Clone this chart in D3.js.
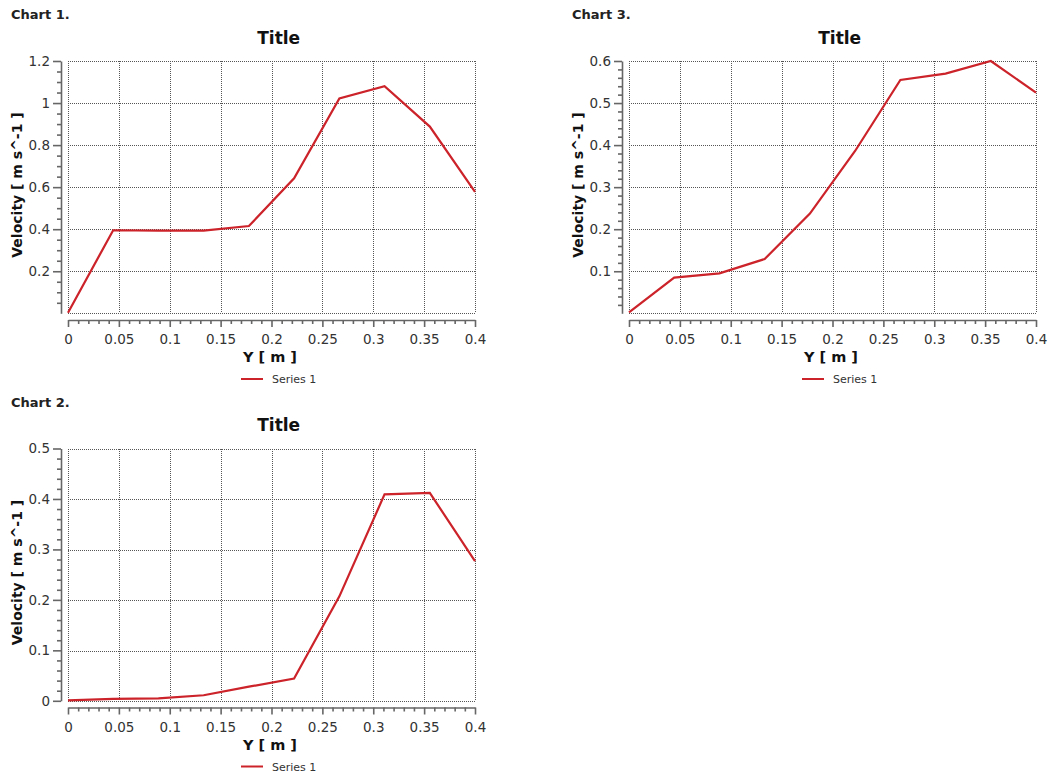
<!DOCTYPE html>
<html><head><meta charset="utf-8">
<script src="https://cdn.jsdelivr.net/npm/d3@7"></script>
<style>
body{margin:0;background:#fff}
svg{display:block}
text{font-family:"DejaVu Sans",Verdana,sans-serif}
</style>
</head><body>
<svg id="c" width="1057" height="776"></svg>
<script>
// ---- data ----
const yPositions = [0, 0.0444, 0.0889, 0.1333, 0.1778, 0.2222, 0.2667, 0.3111, 0.3556, 0.4];
const chart1Velocity = [0.003, 0.395, 0.393, 0.393, 0.415, 0.642, 1.022, 1.080, 0.888, 0.578];
const chart2Velocity = [0.001, 0.004, 0.005, 0.011, 0.028, 0.044, 0.207, 0.409, 0.412, 0.277];
const chart3Velocity = [0.002, 0.085, 0.095, 0.129, 0.237, 0.386, 0.555, 0.570, 0.600, 0.525];
const xTickValues = [0, 0.05, 0.1, 0.15, 0.2, 0.25, 0.3, 0.35, 0.4];
const chart1YTicks = [0.2, 0.4, 0.6, 0.8, 1, 1.2];
const chart2YTicks = [0, 0.1, 0.2, 0.3, 0.4, 0.5];
const chart3YTicks = [0.1, 0.2, 0.3, 0.4, 0.5, 0.6];
const chartLabels = ["Chart 1.", "Chart 2.", "Chart 3."];
const chartTitle = "Title";
const xAxisLabel = "Y [ m ]";
const yAxisLabel = "Velocity [ m s^-1 ]";
const seriesName = "Series 1";

// ---- layout ----
const charts = [
  {label: chartLabels[0], values: chart1Velocity, yMax: 1.2, yTicks: chart1YTicks, yMinor: 0.05, ox: 0, oy: 0},
  {label: chartLabels[1], values: chart2Velocity, yMax: 0.5, yTicks: chart2YTicks, yMinor: 0.02, ox: 0, oy: 387.5},
  {label: chartLabels[2], values: chart3Velocity, yMax: 0.6, yTicks: chart3YTicks, yMinor: 0.02, ox: 561, oy: 0}
];
const P = {left: 68, right: 475, top: 61, bottom: 313.3, yAxisX: 61, xAxisY: 320};
const lineColor = "#cc2229";
const axisColor = "#666";

const svg = d3.select("#c");
svg.append("rect").attr("width", 1057).attr("height", 776).attr("fill", "#fff");

charts.forEach(ch => {
  const g = svg.append("g").attr("transform", `translate(${ch.ox},${ch.oy})`);
  const x = d3.scaleLinear().domain([0, 0.4]).range([P.left, P.right]);
  const y = d3.scaleLinear().domain([0, ch.yMax]).range([P.bottom, P.top]);

  // chart label
  g.append("text").attr("x", 11).attr("y", 19).attr("font-size", 13).attr("font-weight", "bold")
    .attr("fill", "#222").text(ch.label);
  // title
  g.append("text").attr("x", 278.7).attr("y", 43.5).attr("text-anchor", "middle")
    .attr("font-size", 17).attr("font-weight", "bold").attr("fill", "#111").text(chartTitle);

  // grid
  const grid = g.append("g").attr("stroke", "#555").attr("stroke-width", 1)
    .attr("stroke-dasharray", "1,1").attr("shape-rendering", "crispEdges");
  xTickValues.forEach(v => {
    grid.append("line").attr("x1", Math.round(x(v)) + 0.5).attr("x2", Math.round(x(v)) + 0.5)
      .attr("y1", P.top).attr("y2", P.bottom);
  });
  const yGrid = ch.yTicks.includes(0) ? ch.yTicks : [0].concat(ch.yTicks);
  yGrid.forEach(v => {
    grid.append("line").attr("y1", Math.round(y(v)) + 0.5).attr("y2", Math.round(y(v)) + 0.5)
      .attr("x1", P.left).attr("x2", P.right);
  });

  // y axis (offset left)
  const yMinorVals = d3.range(ch.yMinor, ch.yMax + 1e-9, ch.yMinor)
    .filter(v => !ch.yTicks.some(t => Math.abs(t - v) < 1e-6));
  g.append("g").attr("transform", `translate(${P.yAxisX},0)`)
    .call(d3.axisLeft(y).tickValues(ch.yTicks).tickSize(8).tickSizeOuter(0).tickPadding(3)
      .tickFormat(d3.format("~g")));
  g.append("g").attr("transform", `translate(${P.yAxisX},0)`)
    .call(d3.axisLeft(y).tickValues(yMinorVals).tickSize(4).tickSizeOuter(0).tickFormat(""))
    .select(".domain").remove();

  // x axis (offset down)
  const xMinorVals = d3.range(0.01, 0.4, 0.01)
    .filter(v => !xTickValues.some(t => Math.abs(t - v) < 1e-6));
  g.append("g").attr("transform", `translate(0,${P.xAxisY})`)
    .call(d3.axisBottom(x).tickValues(xTickValues).tickSize(7).tickSizeOuter(0).tickPadding(7.5)
      .tickFormat(d3.format("~g")));
  g.append("g").attr("transform", `translate(0,${P.xAxisY})`)
    .call(d3.axisBottom(x).tickValues(xMinorVals).tickSize(4).tickSizeOuter(0).tickFormat(""))
    .select(".domain").remove();

  g.selectAll(".domain, .tick line").attr("stroke", axisColor).attr("stroke-width", 1.6);
  g.selectAll(".tick text").attr("font-size", 13.5).attr("fill", "#333")
    .attr("font-family", "'DejaVu Sans',Verdana,sans-serif");

  // axis labels
  g.append("text").attr("transform", "translate(22,185) rotate(-90)").attr("text-anchor", "middle")
    .attr("font-size", 14).attr("font-weight", "bold").attr("fill", "#111").text(yAxisLabel);
  g.append("text").attr("x", 270).attr("y", 362).attr("text-anchor", "middle")
    .attr("font-size", 14.5).attr("font-weight", "bold").attr("fill", "#111").text(xAxisLabel);

  // series line
  const line = d3.line().x((d, i) => x(yPositions[i])).y(d => y(d));
  g.append("path").datum(ch.values).attr("d", line).attr("fill", "none")
    .attr("stroke", lineColor).attr("stroke-width", 2.2).attr("stroke-linejoin", "miter");

  // legend
  g.append("line").attr("x1", 241).attr("x2", 263).attr("y1", 379).attr("y2", 379)
    .attr("stroke", lineColor).attr("stroke-width", 2);
  g.append("text").attr("x", 272).attr("y", 383).attr("font-size", 11).attr("fill", "#333").text(seriesName);
});
</script>
</body></html>
